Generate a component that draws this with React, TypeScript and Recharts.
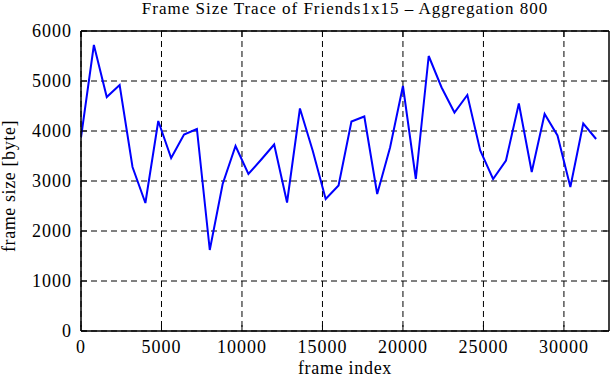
import React from 'react';
import { LineChart, Line, XAxis, YAxis, CartesianGrid, Label } from 'recharts';

// frame index of each aggregated block (800 frames per block)
const frames = [
  0, 800, 1600, 2400, 3200, 4000, 4800, 5600, 6400, 7200,
  8000, 8800, 9600, 10400, 11200, 12000, 12800, 13600, 14400, 15200,
  16000, 16800, 17600, 18400, 19200, 20000, 20800, 21600, 22400, 23200,
  24000, 24800, 25600, 26400, 27200, 28000, 28800, 29600, 30400, 31200,
  32000,
];

// mean frame size per block [byte]
const frameSizes = [
  3870, 5720, 4680, 4920, 3280, 2560, 4200, 3460, 3930, 4040,
  1620, 2940, 3700, 3140, 3430, 3730, 2570, 4450, 3600, 2640,
  2910, 4190, 4290, 2740, 3670, 4900, 3040, 5500, 4870, 4370,
  4720, 3610, 3040, 3410, 4550, 3180, 4340, 3910, 2880, 4150,
  3840,
];

const xTicks = [0, 5000, 10000, 15000, 20000, 25000, 30000];
const yTicks = [0, 1000, 2000, 3000, 4000, 5000, 6000];

const data = frames.map((frame, i) => ({ frame, size: frameSizes[i] }));

const FONT = '"Liberation Serif", "DejaVu Serif", serif';
const TICK_LEN = 6;

const LeftTick = (props: any) => {
  const { x, y, payload } = props;
  return (
    <g>
      <line x1={x} y1={y} x2={x + TICK_LEN} y2={y} stroke="#000" strokeWidth={1} />
      <text
        x={x - 9}
        y={y}
        textAnchor="end"
        dominantBaseline="central"
        fontFamily={FONT}
        fontSize={18}
        letterSpacing={1}
        fill="#000"
      >
        {payload.value}
      </text>
    </g>
  );
};

const RightTick = (props: any) => {
  const { x, y } = props;
  return <line x1={x} y1={y} x2={x - TICK_LEN} y2={y} stroke="#000" strokeWidth={1} />;
};

const BottomTick = (props: any) => {
  const { x, y, payload } = props;
  return (
    <g>
      <line x1={x} y1={y} x2={x} y2={y - TICK_LEN} stroke="#000" strokeWidth={1} />
      <text x={x} y={y + 22} textAnchor="middle" fontFamily={FONT} fontSize={18} letterSpacing={1} fill="#000">
        {payload.value}
      </text>
    </g>
  );
};

const TopTick = (props: any) => {
  const { x, y } = props;
  return <line x1={x} y1={y} x2={x} y2={y + TICK_LEN} stroke="#000" strokeWidth={1} />;
};

const YTitle = () => (
  <text
    x={15}
    y={186}
    transform="rotate(-90 15 186)"
    textAnchor="middle"
    fontFamily={FONT}
    fontSize={18}
    letterSpacing={0.6}
    fill="#000"
  >
    frame size [byte]
  </text>
);

export default function App() {
  return (
    <div style={{ position: 'absolute', left: 0, top: 0, width: 611, height: 380, background: '#fff' }}>
      <div
        style={{
          position: 'absolute',
          left: 81,
          width: 528,
          top: -2,
          textAlign: 'center',
          fontFamily: FONT,
          fontSize: 17,
          letterSpacing: 1,
          lineHeight: '22px',
        }}
      >
        Frame Size Trace of Friends1x15 – Aggregation 800
      </div>
      <LineChart width={611} height={380} data={data} margin={{ top: 0, right: 0, bottom: 0, left: 0 }}>
        <CartesianGrid stroke="#000" strokeWidth={1} strokeDasharray="6 4" horizontalValues={yTicks} verticalValues={xTicks} />
        <XAxis
          dataKey="frame"
          type="number"
          domain={[0, 32800]}
          ticks={xTicks}
          height={49}
          tickSize={0}
          tickMargin={0}
          tickLine={false}
          tick={<BottomTick />}
          axisLine={{ stroke: '#000', strokeWidth: 1.5 }}
          allowDataOverflow
        >
          <Label
            value="frame index"
            position="insideBottom"
            offset={6}
            style={{ fontFamily: FONT, fontSize: 18, letterSpacing: 0.7, fill: '#000' }}
          />
        </XAxis>
        <XAxis
          xAxisId="top"
          orientation="top"
          dataKey="frame"
          type="number"
          domain={[0, 32800]}
          ticks={xTicks}
          height={31}
          tickSize={0}
          tickMargin={0}
          tickLine={false}
          tick={<TopTick />}
          axisLine={{ stroke: '#000', strokeWidth: 1.5 }}
          allowDataOverflow
        />
        <YAxis
          type="number"
          domain={[0, 6000]}
          ticks={yTicks}
          width={81}
          tickSize={0}
          tickMargin={0}
          tickLine={false}
          tick={<LeftTick />}
          axisLine={{ stroke: '#000', strokeWidth: 1.5 }}
          allowDataOverflow
        >
          <Label content={<YTitle />} />
        </YAxis>
        <YAxis
          yAxisId="right"
          orientation="right"
          type="number"
          domain={[0, 6000]}
          ticks={yTicks}
          width={2}
          tickSize={0}
          tickMargin={0}
          tickLine={false}
          tick={<RightTick />}
          axisLine={{ stroke: '#000', strokeWidth: 1.5 }}
          allowDataOverflow
        />
        <Line
          type="linear"
          dataKey="size"
          stroke="#0000ff"
          strokeWidth={2}
          dot={false}
          activeDot={false}
          isAnimationActive={false}
        />
      </LineChart>
    </div>
  );
}
